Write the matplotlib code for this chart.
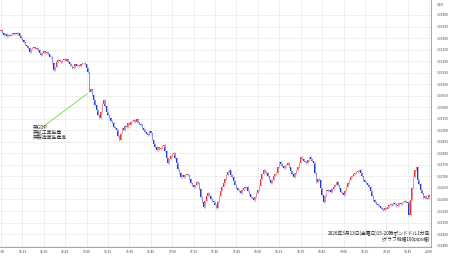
"""GBP/USD 1-minute chart, 2026-03-13 15:00-20:00 (JST)."""

import numpy as np
import matplotlib
matplotlib.use('Agg')
import matplotlib.pyplot as plt

plt.rcParams['font.family'] = ['Noto Sans CJK JP', 'DejaVu Sans']

# ── Data: closes in pips above 1.32400, one per minute from 15:00 ─────────────
base_price = 1.32400
first_open = 93.0
closes_pips = [
    93.5, 92.0, 91.3, 91.8, 90.9, 91.5, 91.0, 91.3, 92.0, 91.6,
    92.4, 91.8, 92.2, 91.0, 90.0, 89.0, 88.2, 87.0, 86.4, 85.7,
    84.0, 85.2, 85.8, 86.0, 85.4, 85.9, 84.8, 83.5, 82.6, 83.4,
    84.2, 83.6, 84.0, 82.9, 82.0, 81.8, 79.0, 76.2, 77.5, 79.4,
    80.5, 80.0, 79.6, 80.5, 81.0, 80.2, 80.8, 79.6, 78.8, 78.0,
    77.0, 77.5, 78.6, 78.0, 78.3, 77.9, 78.6, 79.0, 79.2, 78.6,
    77.2, 75.3, 66.7, 67.8, 65.3, 63.0, 61.0, 58.8, 56.5, 55.3,
    58.0, 61.5, 63.2, 60.4, 58.0, 56.7, 55.2, 54.0, 53.2, 51.6,
    50.8, 50.2, 47.5, 45.8, 48.5, 51.0, 50.2, 52.0, 51.4, 53.2,
    52.4, 53.8, 54.0, 54.5, 53.6, 54.8, 53.4, 52.8, 52.3, 51.0,
    50.2, 49.1, 48.6, 48.0, 49.5, 48.8, 46.0, 44.2, 42.8, 41.5,
    42.6, 41.8, 42.3, 43.0, 43.6, 41.0, 38.2, 35.8, 37.5, 38.9,
    39.6, 40.2, 38.0, 35.8, 33.2, 31.4, 29.8, 30.5, 29.6, 30.8,
    31.2, 30.6, 28.9, 27.0, 26.2, 25.4, 26.5, 27.8, 27.2, 24.5,
    21.0, 18.8, 16.8, 19.5, 21.4, 22.8, 21.6, 20.2, 19.4, 18.9,
    17.8, 16.3, 19.0, 21.5, 23.8, 25.6, 27.2, 28.8, 30.5, 31.9,
    32.6, 30.6, 29.8, 27.9, 26.4, 25.0, 24.2, 23.6, 22.8, 23.9,
    24.8, 25.2, 25.4, 23.8, 22.2, 21.1, 20.5, 19.8, 21.0, 22.6,
    24.1, 26.0, 28.8, 31.0, 32.8, 32.0, 31.5, 30.0, 28.6, 27.2,
    28.5, 30.2, 31.0, 31.5, 34.0, 36.3, 35.2, 34.5, 33.7, 34.6,
    35.1, 35.8, 34.0, 32.2, 31.0, 29.8, 31.3, 32.8, 34.1, 36.0,
    38.4, 37.6, 36.8, 36.2, 35.8, 37.0, 38.4, 37.5, 36.6, 35.8,
    31.5, 27.6, 28.9, 28.5, 25.0, 21.8, 18.9, 21.5, 24.1, 23.5,
    24.0, 23.2, 24.4, 25.6, 26.5, 27.6, 26.2, 24.8, 23.2, 22.6,
    21.9, 23.8, 25.6, 27.0, 28.6, 29.8, 30.4, 30.9, 31.5, 31.9,
    32.4, 32.8, 31.4, 30.0, 28.5, 27.8, 27.0, 26.2, 25.4, 23.6,
    21.6, 19.8, 18.8, 18.0, 17.6, 17.0, 16.2, 15.8, 15.5, 16.4,
    16.0, 16.8, 17.4, 18.0, 17.6, 18.5, 18.0, 17.2, 17.6, 18.4,
    18.0, 18.6, 18.9, 19.4, 18.6, 18.9, 13.3, 19.8, 25.0, 29.8,
    32.6, 34.1, 28.5, 26.8, 24.1, 22.6, 20.7, 21.5, 20.4, 20.7,
    21.8,
]

tick_minutes = list(range(0, 301, 15))
tick_labels = ['15:00', '15:15', '15:30', '15:45', '16:00', '16:15', '16:30',
               '16:45', '17:00', '17:15', '17:30', '17:45', '18:00', '18:15',
               '18:30', '18:45', '19:00', '19:15', '19:30', '19:45', '20:00']
price_ticks = np.arange(1.32400, 1.334001, 0.0005)

event_text = '英GDP\n英鉱工業生産\n英製造業生産高'
event_minute = 60.3
event_price = 1.33058
caption = '2026年3月13日(金曜日)15-20時ポンドドル1分足\n(グラフ縦幅100pips幅)'

# ── Build candles ─────────────────────────────────────────────────────────────
closes = base_price + np.array(closes_pips) / 10000
opens = np.concatenate([[base_price + first_open / 10000], closes[:-1]])
minutes = np.arange(len(closes))
up = closes >= opens
colors = np.where(up, '#e23b3b', '#2b36cc')

fig = plt.figure(figsize=(4.5, 2.58), dpi=100)
fig.patch.set_facecolor('white')
ax = fig.add_axes([0, 11 / 258, 431 / 450, 247 / 258])

# thin tinted wicks joining each body to the previous close, then bodies
ax.vlines(minutes, np.minimum(opens, closes) - 0.00003, np.maximum(opens, closes) + 0.00003,
          colors=np.where(up, '#f0a0b0', '#a0a8f0'), linewidth=0.6)
heights = closes - opens
heights = np.where(np.abs(heights) < 0.00003, np.where(up, 0.00003, -0.00003), heights)
ax.bar(minutes, heights, bottom=opens, width=1.0, color=colors, linewidth=0)

# event marker
ax.plot([29.4, event_minute], [1.32915, event_price], color='#66dd44', linewidth=0.6)
ax.text(22.4, 1.32925, event_text, fontsize=3.5, color='#333333',
        ha='left', va='top', linespacing=1.0)

ax.set_xlim(-0.7, 301.3)
ax.set_ylim(1.32394, 1.33465)

ax.set_xticks(tick_minutes)
ax.set_xticklabels(tick_labels)
ax.set_yticks(price_ticks)
ax.set_yticklabels([f'{p:.5f}' for p in price_ticks])
ax.yaxis.tick_right()
ax.tick_params(axis='both', length=0, labelsize=2.4, labelcolor='#444444')
ax.tick_params(axis='y', pad=4.0)
ax.tick_params(axis='x', pad=2.5)

ax.grid(True, color='#ececec', linewidth=0.6)
ax.set_axisbelow(True)
for side in ['top', 'left']:
    ax.spines[side].set_visible(False)
for side in ['right', 'bottom']:
    ax.spines[side].set_color('#999999')
    ax.spines[side].set_linewidth(0.6)

fig.text(437 / 450, 1 - 5 / 258, 'USD', fontsize=2.4, color='#444444',
         ha='left', va='center')
ax.text(300.5, 1.32415, caption, fontsize=3.4, color='#222222',
        ha='right', va='bottom', linespacing=1.05)

fig.savefig('out.png', dpi=100)
